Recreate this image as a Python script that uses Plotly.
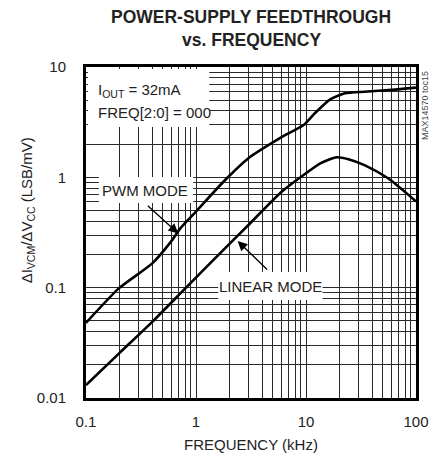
import numpy as np
import plotly.graph_objects as go

# ---- data ----
freq_pwm = [0.1, 0.2, 0.4, 0.59, 0.72, 1.0, 1.84, 3.0, 6.0, 9.5, 12, 16.6, 22.6, 34, 60, 100]
pwm_mode = [0.048, 0.099, 0.166, 0.26, 0.345, 0.49, 0.945, 1.49, 2.31, 2.98, 3.8, 5.09, 5.77, 5.97, 6.2, 6.5]

freq_lin = [0.1, 0.2, 0.4, 0.8, 1.6, 3.0, 6.0, 9.5, 13.5, 19, 24.3, 34, 55.7, 100]
linear_mode = [0.0131, 0.0254, 0.049, 0.0986, 0.198, 0.37, 0.74, 1.05, 1.34, 1.52, 1.46, 1.29, 0.98, 0.605]

x_ticks = [0.1, 1, 10, 100]
x_ticktext = ["0.1", "1", "10", "100"]
y_ticks = [0.01, 0.1, 1, 10]
y_ticktext = ["0.01", "0.1", "1", "10"]

FONT = "Liberation Sans, Arial, sans-serif"

x_minor = [m * 10.0 ** e for e in (-1, 0, 1) for m in range(2, 10)]
y_minor = [m * 10.0 ** e for e in (-2, -1, 0) for m in range(2, 10)]

fig = go.Figure()
fig.add_trace(go.Scatter(x=freq_pwm, y=pwm_mode, mode="lines",
                         line=dict(color="black", width=2.6, shape="spline", smoothing=0.6),
                         hoverinfo="skip"))
fig.add_trace(go.Scatter(x=freq_lin, y=linear_mode, mode="lines",
                         line=dict(color="black", width=2.6, shape="spline", smoothing=0.6),
                         hoverinfo="skip"))

grid_col = "#2a2a2a"
axis_common = dict(
    showline=True, linecolor="black", linewidth=3, mirror=True,
    showgrid=True, gridcolor=grid_col, gridwidth=1.4,
    ticks="outside", tickcolor="rgba(0,0,0,0)", zeroline=False,
    tickfont=dict(family=FONT, size=15, color="#222"),
)
fig.update_xaxes(type="log", range=[-1, 2], tickvals=x_ticks, ticktext=x_ticktext,
                 ticklen=8,
                 minor=dict(tickvals=x_minor, showgrid=True, gridcolor=grid_col, gridwidth=1, ticks=""),
                 **axis_common)
fig.update_yaxes(type="log", range=[-2, 1], tickvals=y_ticks, ticktext=y_ticktext,
                 ticklen=14,
                 minor=dict(tickvals=y_minor, showgrid=True, gridcolor=grid_col, gridwidth=1, ticks=""),
                 **axis_common)

# white boxes behind labels (paper coords)
boxes = [(0.006, 0.8187, 0.3735, 0.994), (0.039, 0.589, 0.325, 0.668), (0.4006, 0.296, 0.7169, 0.381)]
for x0, y0, x1, y1 in boxes:
    fig.add_shape(type="rect", xref="paper", yref="paper", x0=x0, y0=y0, x1=x1, y1=y1,
                  fillcolor="white", line=dict(width=0), layer="above")

ann_font = dict(family=FONT, size=15, color="#222")
anns = [
    dict(text="<b>POWER-SUPPLY FEEDTHROUGH</b>", x=0.5, y=1.151, font=dict(family=FONT, size=17.5, color="#222")),
    dict(text="<b>vs. FREQUENCY</b>", x=0.5, y=1.0816, font=dict(family=FONT, size=17.5, color="#222")),
    dict(text="FREQUENCY (kHz)", x=0.5, y=-0.139, font=ann_font),
    dict(text="ΔI<sub>VCM</sub>/ΔV<sub>CC</sub> (LSB/mV)", x=-0.1747, y=0.568, textangle=-90, font=ann_font),
    dict(text="MAX14570 toc15", x=1.027, y=0.885, textangle=-90, font=dict(family=FONT, size=9, color="#444")),
    dict(text="I<sub>OUT</sub> = 32mA", x=0.0301, y=0.9305, xanchor="left", font=ann_font),
    dict(text="FREQ[2:0] = 000", x=0.0301, y=0.864, xanchor="left", font=ann_font),
    dict(text="PWM MODE", x=0.179, y=0.628, font=ann_font),
    dict(text="LINEAR MODE", x=0.5587, y=0.338, font=ann_font),
]
for a in anns:
    a.setdefault("xanchor", "center")
    fig.add_annotation(xref="paper", yref="paper", yanchor="middle", showarrow=False, **a)

# arrows pointing to the curves (data coords, log10 for log axes)
fig.add_annotation(x=np.log10(0.69), y=np.log10(0.31), xref="x", yref="y", text="",
                   showarrow=True, ax=-32, ay=-29, arrowhead=2, arrowsize=1.5,
                   arrowwidth=1.3, arrowcolor="black", standoff=0)
fig.add_annotation(x=np.log10(2.39), y=np.log10(0.265), xref="x", yref="y", text="",
                   showarrow=True, ax=31, ay=30, arrowhead=2, arrowsize=1.5,
                   arrowwidth=1.3, arrowcolor="black", standoff=0)

fig.update_layout(width=441, height=464, margin=dict(l=86, r=23, t=67, b=66),
                  paper_bgcolor="white", plot_bgcolor="white", showlegend=False,
                  font=dict(family=FONT))
fig.write_html("out.html", config={"displayModeBar": False},
               post_script="document.body.style.margin='0';")
